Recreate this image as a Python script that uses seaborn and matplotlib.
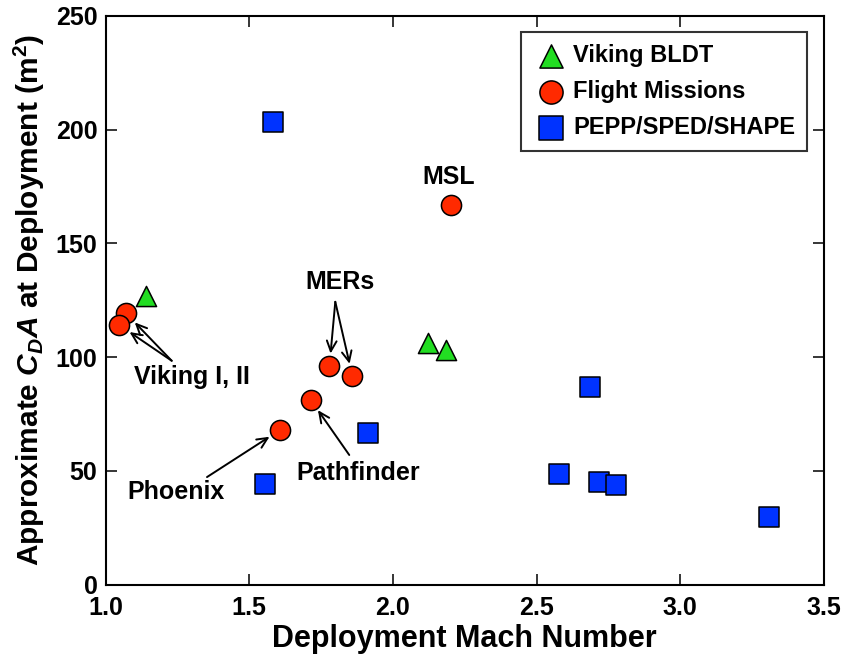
import matplotlib
matplotlib.use("Agg")
import matplotlib.pyplot as plt
import seaborn as sns
import pandas as pd

# ---- data ----
viking_mach = [1.142, 2.122, 2.185]
viking_cda = [126.8, 106.2, 103.1]

flight_mach = [1.071, 1.047, 1.607, 1.714, 1.779, 1.859, 2.202]
flight_cda = [119.2, 114.1, 68.0, 81.2, 96.1, 91.7, 166.8]

pepp_mach = [1.584, 1.555, 1.912, 2.577, 2.687, 2.719, 2.777, 3.311]
pepp_cda = [203.4, 44.2, 66.5, 48.8, 86.7, 45.3, 43.8, 29.9]

group_names = ["Viking BLDT", "Flight Missions", "PEPP/SPED/SHAPE"]
x_ticks = [1.0, 1.5, 2.0, 2.5, 3.0, 3.5]
y_ticks = [0, 50, 100, 150, 200, 250]

sns.set_style("white")
plt.rcParams["font.family"] = ["Liberation Sans", "DejaVu Sans"]
plt.rcParams["font.weight"] = "bold"
plt.rcParams["text.color"] = "black"
plt.rcParams["axes.labelcolor"] = "black"
plt.rcParams["xtick.color"] = "black"
plt.rcParams["ytick.color"] = "black"
plt.rcParams["mathtext.fontset"] = "custom"
plt.rcParams["mathtext.rm"] = "Liberation Sans:bold"
plt.rcParams["mathtext.it"] = "Liberation Sans:italic:bold"
plt.rcParams["mathtext.bf"] = "Liberation Sans:bold"

fig = plt.figure(figsize=(8.43, 6.55), dpi=100)
ax = fig.add_axes([0.1254, 0.1073, 0.9771 - 0.1254, 0.976 - 0.1073])

msize = 14.5
styles = [
    (viking_mach, viking_cda, "^", "#22dd22"),
    (flight_mach, flight_cda, "o", "#ff2a00"),
    (pepp_mach, pepp_cda, "s", "#0033ff"),
]
for name, (xs, ys, m, c) in zip(group_names, styles):
    df = pd.DataFrame({"mach": xs, "cda": ys})
    sns.scatterplot(data=df, x="mach", y="cda", marker=m, color=c,
                    s=msize ** 2, edgecolor="black", linewidth=1.1,
                    label=name, ax=ax, zorder=3)

ax.set_xlim(1.0, 3.5)
ax.set_ylim(0, 250)
ax.set_xticks(x_ticks)
ax.set_yticks(y_ticks)
ax.set_xticklabels([f"{v:.1f}" for v in x_ticks])
ax.set_yticklabels([str(v) for v in y_ticks])
ax.tick_params(direction="in", length=8, width=1.1, labelsize=18,
               top=True, right=True, bottom=True, left=True, pad=6,
               colors="black")
ax.tick_params(axis="x", pad=8)
for sp in ax.spines.values():
    sp.set_linewidth(1.5)
    sp.set_color("black")

ax.set_xlabel("Deployment Mach Number", fontsize=22, fontweight="bold",
              labelpad=3, color="black")
ax.set_ylabel(r"Approximate $C_DA$ at Deployment (m$^2$)", fontsize=21.5,
              fontweight="bold", labelpad=6, color="black")

leg = ax.legend(loc="upper right", fontsize=17, frameon=True, fancybox=False,
                edgecolor="black", borderpad=0.5, handletextpad=0.2,
                handlelength=1.5, labelspacing=0.55, markerscale=1.15,
                borderaxespad=0, bbox_to_anchor=(0.977, 0.971))
leg.get_frame().set_linewidth(1.5)
for t in leg.get_texts():
    t.set_color("black")

arrow_kw = dict(arrowstyle="->,head_length=0.75,head_width=0.35", lw=1.4,
                color="black", shrinkA=0, shrinkB=9)

# Viking I, II
for i in (0, 1):
    ax.annotate("", xy=(flight_mach[i], flight_cda[i]), xytext=(1.2298, 98.4),
                arrowprops=arrow_kw)
ax.text(1.3005, 91.2, "Viking I, II", fontsize=18, fontweight="bold",
        ha="center", va="center", color="black")
# MERs
for i in (4, 5):
    ax.annotate("", xy=(flight_mach[i], flight_cda[i]), xytext=(1.7994, 124.3),
                arrowprops=arrow_kw)
ax.text(1.8158, 133.1, "MERs", fontsize=18, fontweight="bold",
        ha="center", va="center", color="black")
# Pathfinder
ax.annotate("", xy=(flight_mach[3], flight_cda[3]), xytext=(1.848, 57.0),
            arrowprops=arrow_kw)
ax.text(1.8795, 48.9, "Pathfinder", fontsize=18, fontweight="bold",
        ha="center", va="center", color="black")
# Phoenix
ax.annotate("", xy=(flight_mach[2], flight_cda[2]), xytext=(1.3527, 47.3),
            arrowprops=arrow_kw)
ax.text(1.2448, 40.7, "Phoenix", fontsize=18, fontweight="bold",
        ha="center", va="center", color="black")
# MSL
ax.text(2.195, 179.3, "MSL", fontsize=18, fontweight="bold",
        ha="center", va="center", color="black")

fig.savefig("out.png", dpi=100)
